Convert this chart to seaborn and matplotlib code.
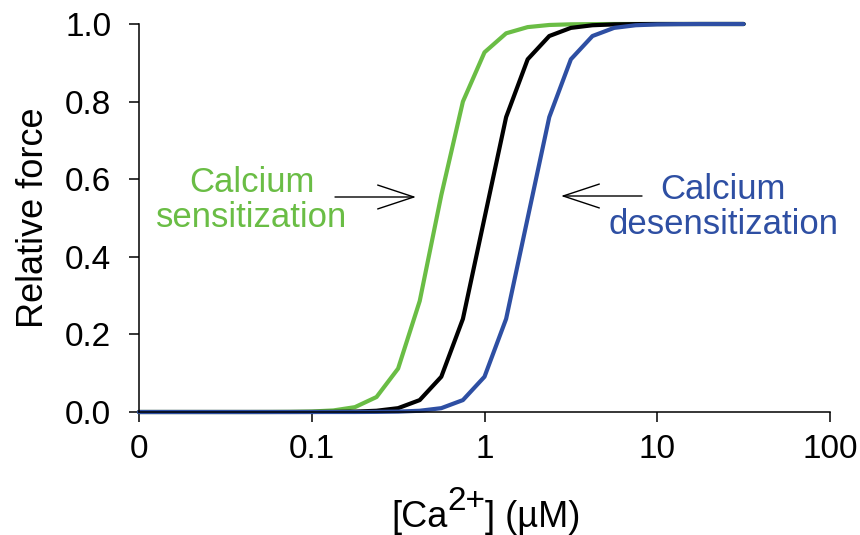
import matplotlib
matplotlib.use("Agg")
import matplotlib.pyplot as plt
import seaborn as sns
import pandas as pd

# [Ca2+] grid (uM), 8 points per decade
ca = [0.01, 0.01334, 0.01778, 0.02371, 0.03162, 0.04217, 0.05623, 0.07499,
      0.1, 0.1334, 0.1778, 0.2371, 0.3162, 0.4217, 0.5623, 0.7499,
      1.0, 1.334, 1.778, 2.371, 3.162, 4.217, 5.623, 7.499,
      10.0, 13.34, 17.78, 23.71, 31.62]

force_sens = [0, 0, 0, 0, 0, 0, 0.0001, 0.0004,
              0.0013, 0.004, 0.0125, 0.0386, 0.112, 0.286, 0.559, 0.80,
              0.927, 0.976, 0.992, 0.9975, 0.9992, 0.9997, 1.0, 1.0,
              1.0, 1.0, 1.0, 1.0, 1.0]
force_ctrl = [0, 0, 0, 0, 0, 0, 0, 0,
              0.0001, 0.0003, 0.001, 0.0032, 0.0099, 0.0307, 0.0909, 0.24,
              0.5, 0.76, 0.909, 0.969, 0.990, 0.9968, 0.999, 0.9997,
              1.0, 1.0, 1.0, 1.0, 1.0]
force_desens = [0, 0, 0, 0, 0, 0, 0, 0,
                0, 0, 0, 0.0003, 0.001, 0.0032, 0.0099, 0.0307,
                0.0909, 0.24, 0.5, 0.76, 0.909, 0.969, 0.990, 0.9968,
                0.999, 0.9997, 1.0, 1.0, 1.0]

xticks = [0.01, 0.1, 1, 10, 100]
xticklabels = ["0", "0.1", "1", "10", "100"]
yticks = [0.0, 0.2, 0.4, 0.6, 0.8, 1.0]

green = "#6abd45"
blue = "#2e4fa3"

sns.set_style("ticks")
plt.rcParams["font.family"] = ["Liberation Sans", "DejaVu Sans"]
plt.rcParams["text.color"] = "black"
plt.rcParams["axes.labelcolor"] = "black"

W, H = 860, 535
fig = plt.figure(figsize=(8.6, 5.35), dpi=100)
ax = fig.add_axes([139 / W, 1 - 412 / H, (830 - 139) / W, (412 - 24) / H])

df = pd.DataFrame({"ca": ca, "sens": force_sens, "ctrl": force_ctrl, "desens": force_desens})
for col, c in [("sens", green), ("ctrl", "black"), ("desens", blue)]:
    sns.lineplot(data=df, x="ca", y=col, color=c, lw=3.0, ax=ax, clip_on=False)

ax.set_xscale("log")
ax.set_xlim(0.01, 100)
ax.set_ylim(0, 1)
ax.set_xticks(xticks)
ax.set_xticklabels(xticklabels)
ax.minorticks_off()
ax.set_yticks(yticks)
ax.set_yticklabels([f"{v:.1f}" for v in yticks])
ax.tick_params(direction="out", length=7, width=1.1, labelsize=24,
               colors="black", labelcolor="black")
ax.tick_params(axis="x", pad=9)
ax.tick_params(axis="y", pad=13)
for s in ["top", "right"]:
    ax.spines[s].set_visible(False)
for s in ["left", "bottom"]:
    ax.spines[s].set_linewidth(1.1)
    ax.spines[s].set_color("black")

ax.set_xlabel("")
ax.set_ylabel("Relative force", fontsize=26, labelpad=10, color="black")

# x label with a nearly full-size raised superscript
fig.canvas.draw()
r = fig.canvas.get_renderer()
yb = 1 - 527 / H
t1 = fig.text(391 / W, yb, "[Ca", fontsize=26, va="baseline", color="black")
bb = t1.get_window_extent(r)
t2 = fig.text(bb.x1 / W, yb + 17 / H, "2+", fontsize=24, va="baseline", color="black")
bb = t2.get_window_extent(r)
fig.text(bb.x1 / W, yb, "] (µM)", fontsize=26, va="baseline", color="black")

# annotations
fig.text(252 / W, 1 - 200 / H, "Calcium\nsensitization", color=green, fontsize=25,
         ha="center", va="center", linespacing=1.05)
fig.text(723 / W, 1 - 207 / H, "Calcium\ndesensitization", color=blue, fontsize=25,
         ha="center", va="center", linespacing=1.05)
arrow = dict(arrowstyle="->,head_length=1.3,head_width=0.43", lw=1.0, color="black",
             mutation_scale=20, shrinkA=0, shrinkB=0)
fig.add_artist(matplotlib.patches.FancyArrowPatch((335 / W, 1 - 197 / H), (416 / W, 1 - 197 / H),
                                                  transform=fig.transFigure, **arrow))
fig.add_artist(matplotlib.patches.FancyArrowPatch((642 / W, 1 - 196 / H), (561 / W, 1 - 196 / H),
                                                  transform=fig.transFigure, **arrow))

fig.savefig("out.png", dpi=100)
